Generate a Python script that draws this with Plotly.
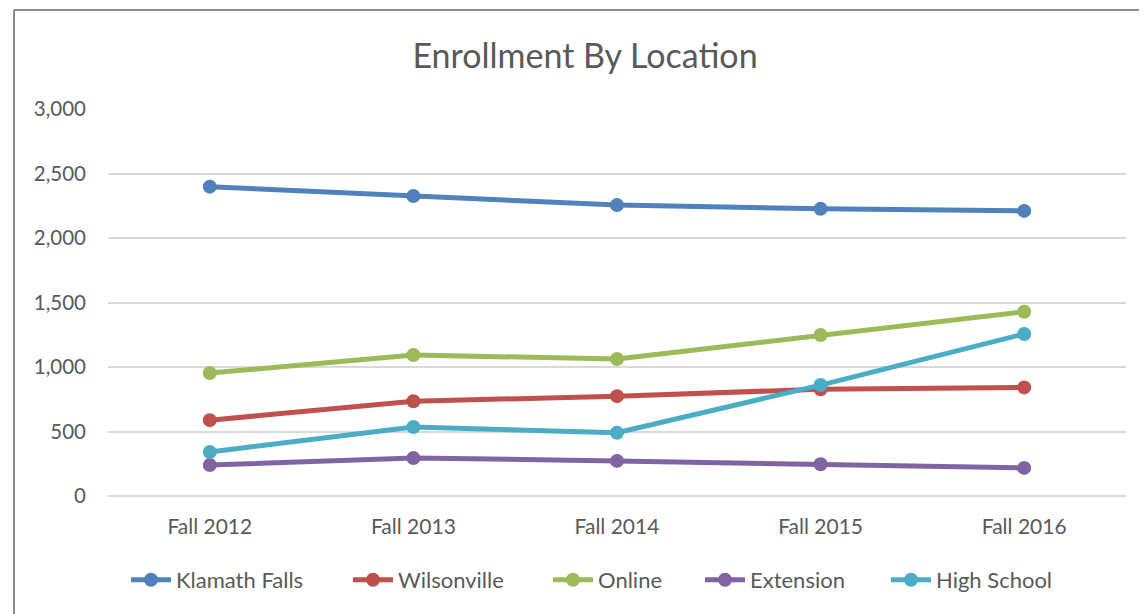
import plotly.graph_objects as go

categories = ["Fall 2012", "Fall 2013", "Fall 2014", "Fall 2015", "Fall 2016"]
klamath_falls = [2398, 2326, 2255, 2226, 2210]
wilsonville = [588, 734, 774, 828, 842]
online = [953, 1093, 1062, 1248, 1428]
extension = [240, 295, 272, 246, 218]
high_school = [341, 535, 490, 860, 1256]

series = [
    ("Klamath Falls", klamath_falls, "#4F81BD"),
    ("Wilsonville", wilsonville, "#C0504D"),
    ("Online", online, "#9BBB59"),
    ("Extension", extension, "#8064A2"),
    ("High School", high_school, "#4BACC6"),
]

# legend marker centres in the reference (px)
legend_marker_x = [148, 370, 570, 722, 908]

FONT = "Lato, 'Open Sans', sans-serif"
GREY = "#595959"

OFF = 8  # page body margin
W, H = 1147 - OFF, 614 - OFF
L, R, T, B = 108 - OFF, 1126 - OFF, 109 - OFF, 496 - OFF
pw, ph = R - L, B - T

def px(x):
    return (x - OFF - L) / pw

def py(y):
    return (B - (y - OFF)) / ph

fig = go.Figure()
legend_layouts = {}
for i, (name, vals, color) in enumerate(series):
    lname = "legend" if i == 0 else f"legend{i + 1}"
    fig.add_trace(go.Scatter(
        x=categories, y=vals, name=name, mode="lines+markers",
        line=dict(color=color, width=5),
        marker=dict(color=color, size=14),
        legend=lname,
    ))
    legend_layouts[lname] = dict(
        orientation="h", xref="container", yref="container",
        x=(legend_marker_x[i] - 22 - OFF) / W, xanchor="left",
        y=1 - (580 - OFF) / H, yanchor="middle",
        font=dict(size=22, color=GREY, family=FONT),
        bgcolor="rgba(0,0,0,0)", itemwidth=40,
    )

fig.update_layout(
    width=W, height=H,
    margin=dict(l=L, r=W - R, t=T, b=H - B, pad=0),
    paper_bgcolor="white", plot_bgcolor="white",
    font=dict(family=FONT, color=GREY, size=21),
    title=dict(text="Enrollment By Location", x=(585 - OFF) / W, xref="container",
               xanchor="center", y=1 - (56 - OFF) / H, yref="container", yanchor="middle",
               font=dict(size=34, color=GREY, family=FONT)),
    showlegend=True,
    xaxis=dict(type="category", range=[-0.5, 4.5], showgrid=False, showline=False,
               zeroline=False, ticks="", ticklabelstandoff=16,
               tickfont=dict(size=21, color=GREY)),
    yaxis=dict(range=[0, 3000], dtick=500, tickformat=",", showgrid=True,
               gridcolor="#D9D9D9", gridwidth=1.5, zeroline=True,
               zerolinecolor="#D9D9D9", zerolinewidth=1.5, showline=False,
               ticks="", ticklabelstandoff=21, tickfont=dict(size=20.5, color=GREY)),
    shapes=[
        dict(type="line", xref="paper", yref="paper", x0=px(14), x1=px(1300),
             y0=py(10), y1=py(10), line=dict(color="#8C8C8C", width=2)),
        dict(type="line", xref="paper", yref="paper", x0=px(14), x1=px(14),
             y0=py(10), y1=py(800), line=dict(color="#8C8C8C", width=2)),
    ],
    **legend_layouts,
)

fig.write_html("out.html")
